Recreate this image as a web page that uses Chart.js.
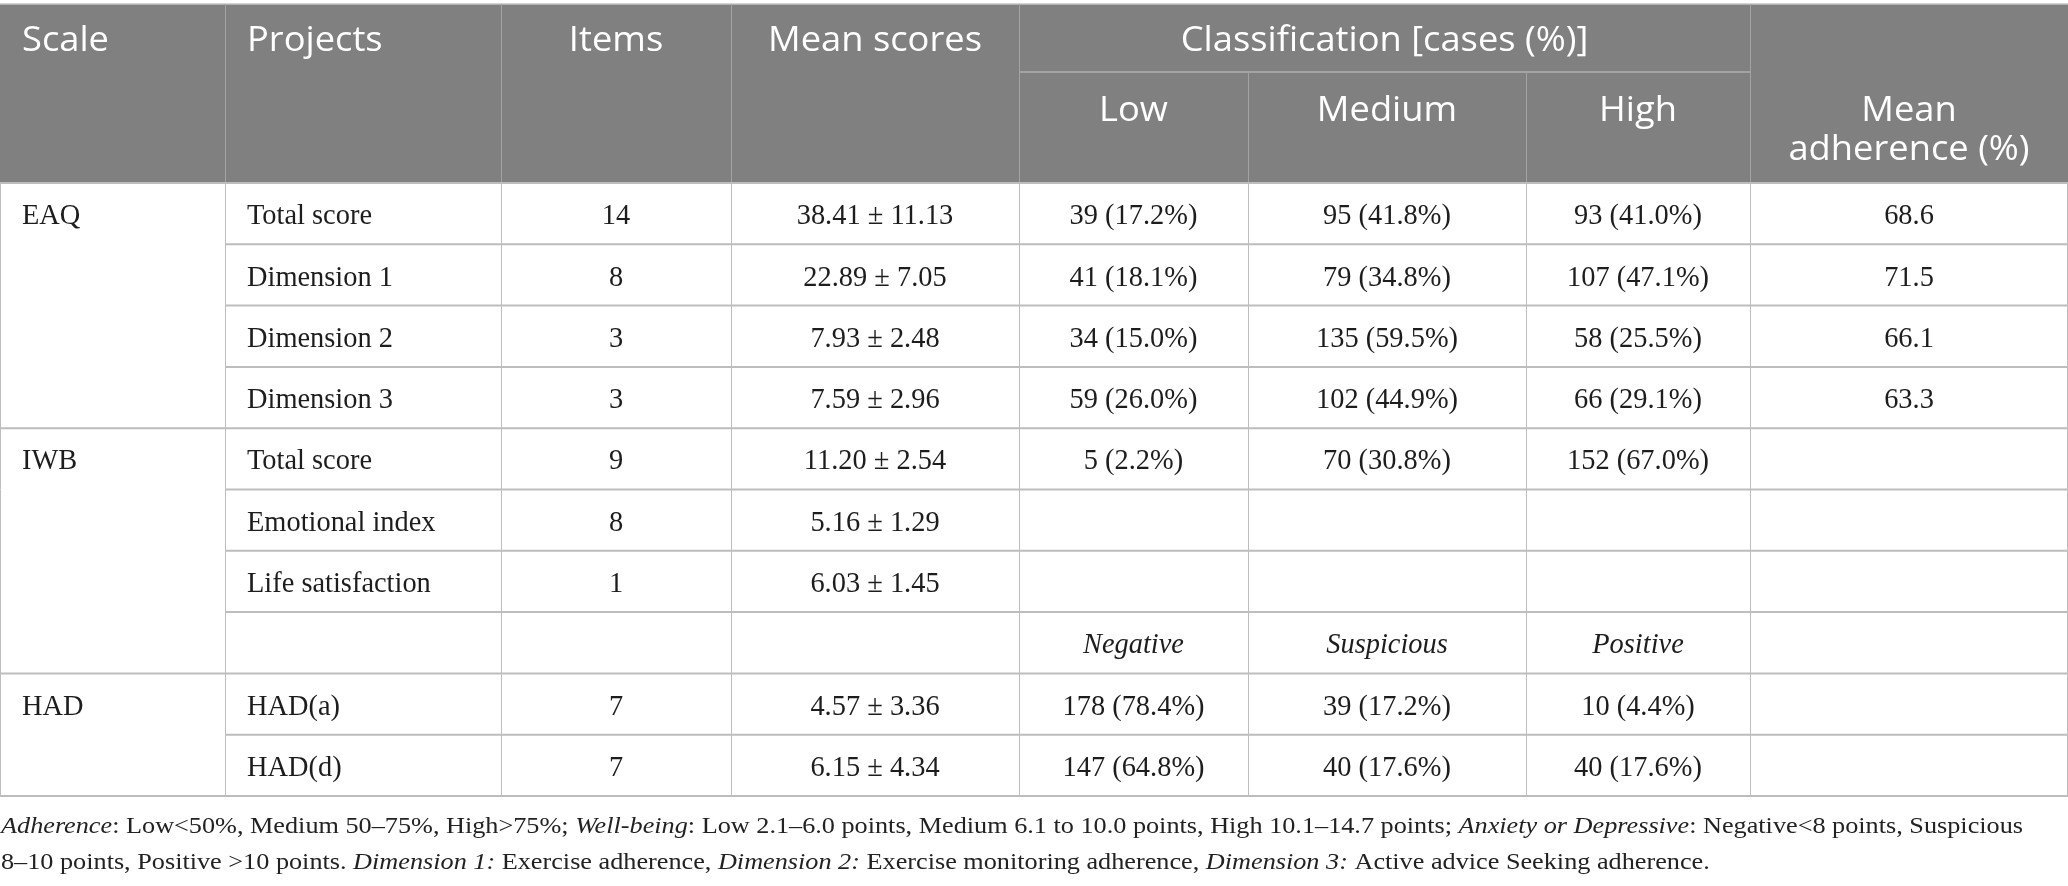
<!DOCTYPE html>
<html>
<head>
<meta charset="utf-8">
<script src="https://cdn.jsdelivr.net/npm/chart.js@4.4.0/dist/chart.umd.min.js"></script>
<style>
  html, body { margin: 0; padding: 0; background: #fff; }
  .wrap { width: 2068px; height: 886px; position: relative; }
</style>
</head>
<body>
<div class="wrap"><canvas id="tbl"></canvas></div>
<script>
// table data
const scaleNames = ['EAQ', 'IWB', 'HAD'];
const scaleFirstRow = [0, 4, 8];
const projects = ['Total score', 'Dimension 1', 'Dimension 2', 'Dimension 3', 'Total score', 'Emotional index', 'Life satisfaction', '', 'HAD(a)', 'HAD(d)'];
const items = [14, 8, 3, 3, 9, 8, 1, null, 7, 7];
const meanVals = [38.41, 22.89, 7.93, 7.59, 11.20, 5.16, 6.03, null, 4.57, 6.15];
const sdVals = [11.13, 7.05, 2.48, 2.96, 2.54, 1.29, 1.45, null, 3.36, 4.34];
const lowN = [39, 41, 34, 59, 5, null, null, null, 178, 147];
const lowPct = [17.2, 18.1, 15.0, 26.0, 2.2, null, null, null, 78.4, 64.8];
const medN = [95, 79, 135, 102, 70, null, null, null, 39, 40];
const medPct = [41.8, 34.8, 59.5, 44.9, 30.8, null, null, null, 17.2, 17.6];
const highN = [93, 107, 58, 66, 152, null, null, null, 10, 40];
const highPct = [41.0, 47.1, 25.5, 29.1, 67.0, null, null, null, 4.4, 17.6];
const adherence = [68.6, 71.5, 66.1, 63.3, null, null, null, null, null, null];
const hadLabels = ['Negative', 'Suspicious', 'Positive'];
const hadLabelRow = 7;

const footLine1 = [['Adherence', true], [': Low<50%, Medium 50–75%, High>75%; ', false], ['Well-being', true], [': Low 2.1–6.0 points, Medium 6.1 to 10.0 points, High 10.1–14.7 points; ', false], ['Anxiety or Depressive', true], [': Negative<8 points, Suspicious', false]];
const footLine2 = [['8–10 points, Positive >10 points. ', false], ['Dimension 1:', true], [' Exercise adherence, ', false], ['Dimension 2:', true], [' Exercise monitoring adherence, ', false], ['Dimension 3:', true], [' Active advice Seeking adherence.', false]];

// layout (in canvas units)
const colEdges = [0, 225, 501, 731, 1019, 1248, 1526, 1750, 2068];
const tableTop = 4, subLine = 72, headTop = 183, rowH = 61.3;
const nRows = projects.length;
const padL = 22;

const HEAD_FONT = '"Open Sans", sans-serif';
const BODY_FONT = '"Liberation Serif", "Times New Roman", serif';

function colMid(c) { return (colEdges[c] + colEdges[c + 1]) / 2; }
function rowMid(r) { return headTop + rowH * (r + 0.5); }
function pctCell(n, p) { return n == null ? '' : n + ' (' + p.toFixed(1) + '%)'; }

// build cells from data
const cells = [];
scaleNames.forEach((s, i) => cells.push({ x: colEdges[0] + padL, y: rowMid(scaleFirstRow[i]), t: s, align: 'left' }));
for (let r = 0; r < nRows; r++) {
  if (projects[r]) cells.push({ x: colEdges[1] + padL, y: rowMid(r), t: projects[r], align: 'left' });
  if (items[r] != null) cells.push({ x: colMid(2), y: rowMid(r), t: String(items[r]), align: 'center' });
  if (meanVals[r] != null) cells.push({ x: colMid(3), y: rowMid(r), t: meanVals[r].toFixed(2) + ' ± ' + sdVals[r].toFixed(2), align: 'center' });
  if (lowN[r] != null) cells.push({ x: colMid(4), y: rowMid(r), t: pctCell(lowN[r], lowPct[r]), align: 'center' });
  if (medN[r] != null) cells.push({ x: colMid(5), y: rowMid(r), t: pctCell(medN[r], medPct[r]), align: 'center' });
  if (highN[r] != null) cells.push({ x: colMid(6), y: rowMid(r), t: pctCell(highN[r], highPct[r]), align: 'center' });
  if (adherence[r] != null) cells.push({ x: colMid(7), y: rowMid(r), t: adherence[r].toFixed(1), align: 'center' });
}
hadLabels.forEach((l, i) => cells.push({ x: colMid(4 + i), y: rowMid(hadLabelRow), t: l, align: 'center', italic: true }));

function drawScaled(ctx, text, x, y, align, sx) {
  const w = ctx.measureText(text).width * sx;
  let x0 = x;
  if (align === 'center') x0 = x - w / 2;
  ctx.save();
  ctx.translate(x0, y);
  ctx.scale(sx, 1);
  ctx.textAlign = 'left';
  ctx.fillText(text, 0, 0);
  ctx.restore();
  return w;
}

const tablePlugin = {
  id: 'tablePlugin',
  beforeDatasetsDraw(chart) {
    const ctx = chart.ctx;
    const X = v => chart.scales.x.getPixelForValue(v);
    const Y = v => chart.scales.y.getPixelForValue(v);
    const right = colEdges[colEdges.length - 1];
    const bottom = headTop + rowH * nRows;

    ctx.save();
    // header block
    ctx.fillStyle = '#808080';
    ctx.fillRect(X(0), Y(tableTop), X(right) - X(0), Y(headTop) - Y(tableTop));
    ctx.strokeStyle = '#c4c4c4';
    ctx.lineWidth = 1.5;
    ctx.beginPath(); ctx.moveTo(X(0), Y(tableTop)); ctx.lineTo(X(right), Y(tableTop)); ctx.stroke();

    ctx.strokeStyle = '#a3a3a3';
    ctx.lineWidth = 1;
    for (let c = 1; c < colEdges.length - 1; c++) {
      const top = (c === 5 || c === 6) ? subLine : tableTop;
      ctx.beginPath(); ctx.moveTo(X(colEdges[c]) + 0.5, Y(top)); ctx.lineTo(X(colEdges[c]) + 0.5, Y(headTop)); ctx.stroke();
    }
    ctx.lineWidth = 2;
    ctx.beginPath(); ctx.moveTo(X(colEdges[4]), Y(subLine)); ctx.lineTo(X(colEdges[7]), Y(subLine)); ctx.stroke();

    // body grid
    ctx.strokeStyle = '#bdbdbd';
    ctx.lineWidth = 1;
    for (let c = 0; c < colEdges.length; c++) {
      let x = X(colEdges[c]) + 0.5;
      if (c === colEdges.length - 1) x -= 1;
      ctx.beginPath(); ctx.moveTo(x, Y(headTop)); ctx.lineTo(x, Y(bottom)); ctx.stroke();
    }
    ctx.lineWidth = 2;
    for (let r = 0; r <= nRows; r++) {
      const full = r === 0 || r === nRows || scaleFirstRow.indexOf(r) >= 0;
      const y = Y(headTop + rowH * r);
      ctx.beginPath(); ctx.moveTo(X(full ? 0 : colEdges[1]), y); ctx.lineTo(X(right), y); ctx.stroke();
    }

    // header text
    ctx.fillStyle = '#ffffff';
    ctx.font = '34px ' + HEAD_FONT;
    const hsx = 87 / ctx.measureText('Scale').width;
    const hb1 = Y(51), hb2 = Y(121);
    drawScaled(ctx, 'Scale', X(colEdges[0] + padL), hb1, 'left', hsx);
    drawScaled(ctx, 'Projects', X(colEdges[1] + padL), hb1, 'left', hsx);
    drawScaled(ctx, 'Items', X(colMid(2)), hb1, 'center', hsx);
    drawScaled(ctx, 'Mean scores', X(colMid(3)), hb1, 'center', hsx);
    drawScaled(ctx, 'Classification [cases (%)]', X((colEdges[4] + colEdges[7]) / 2), hb1, 'center', hsx);
    drawScaled(ctx, 'Low', X(colMid(4)), hb2, 'center', hsx);
    drawScaled(ctx, 'Medium', X(colMid(5)), hb2, 'center', hsx);
    drawScaled(ctx, 'High', X(colMid(6)), hb2, 'center', hsx);
    drawScaled(ctx, 'Mean', X(colMid(7)), hb2, 'center', hsx);
    drawScaled(ctx, 'adherence (%)', X(colMid(7)), Y(160), 'center', hsx);

    // footnote
    ctx.fillStyle = '#222222';
    const fsz = 24;
    const setF = it => { ctx.font = (it ? 'italic ' : '') + fsz + 'px ' + BODY_FONT; };
    let w1 = 0;
    footLine1.forEach(s => { setF(s[1]); w1 += ctx.measureText(s[0]).width; });
    const fsx = 2022 / w1;
    [[footLine1, 833], [footLine2, 869]].forEach(([line, base]) => {
      let x = X(1);
      line.forEach(s => { setF(s[1]); x += drawScaled(ctx, s[0], x, Y(base), 'left', fsx); });
    });
    ctx.restore();
  },
  afterDatasetsDraw(chart) {
    const ctx = chart.ctx;
    const meta = chart.getDatasetMeta(0);
    ctx.save();
    ctx.font = '29px ' + BODY_FONT;
    const bsx = 125 / ctx.measureText('Total score').width;
    ctx.fillStyle = '#1d1d1d';
    meta.data.forEach((pt, i) => {
      const c = cells[i];
      ctx.font = (c.italic ? 'italic ' : '') + '29px ' + BODY_FONT;
      drawScaled(ctx, c.t, pt.x, pt.y + 10.6, c.align, bsx);
    });
    ctx.restore();
  }
};

new Chart(document.getElementById('tbl'), {
  type: 'scatter',
  data: {
    datasets: [{
      data: cells.map(c => ({ x: c.x, y: c.y })),
      pointRadius: 0,
      pointHoverRadius: 0
    }]
  },
  options: {
    responsive: true,
    maintainAspectRatio: false,
    animation: false,
    events: [],
    layout: { padding: 0 },
    plugins: { legend: { display: false }, tooltip: { enabled: false } },
    scales: {
      x: { type: 'linear', display: false, min: 0, max: 2068 },
      y: { type: 'linear', display: false, min: 0, max: 886, reverse: true }
    }
  },
  plugins: [tablePlugin]
});
</script>
</body>
</html>
